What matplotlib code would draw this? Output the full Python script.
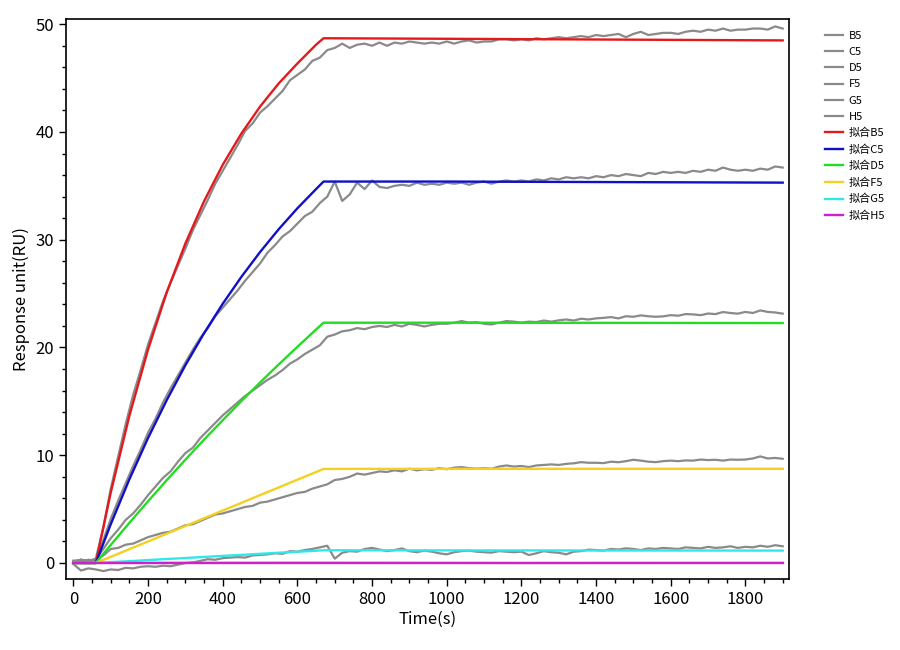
import matplotlib
matplotlib.use("Agg")
import matplotlib.pyplot as plt
from matplotlib.ticker import MultipleLocator

plt.rcParams['font.family'] = ['Noto Sans CJK SC', 'DejaVu Sans']

# sampling times of the measured curves (s), every 20 s from 0 to 1900
t_data = list(range(0, 1901, 20))

# measured responses (RU), one row per 200 s
B5 = [0.0, 0.3, 0.2, 0.4, 3.3, 6.9, 9.9, 12.9, 15.6, 17.9,
      20.3, 22.3, 24.3, 26.0, 27.6, 29.2, 30.9, 32.3, 33.7, 35.2,
      36.4, 37.6, 38.8, 40.1, 40.8, 41.8, 42.4, 43.1, 43.8, 44.8,
      45.3, 45.8, 46.6, 46.9, 47.6, 47.8, 48.2, 47.8, 48.1, 48.2,
      48.0, 48.3, 48.0, 48.3, 48.2, 48.4, 48.3, 48.2, 48.3, 48.2,
      48.4, 48.2, 48.4, 48.5, 48.3, 48.4, 48.4, 48.6, 48.6, 48.5,
      48.6, 48.5, 48.7, 48.6, 48.7, 48.8, 48.7, 48.8, 48.9, 48.8,
      49.0, 48.9, 49.0, 49.1, 48.8, 49.1, 49.3, 49.0, 49.1, 49.2,
      49.2, 49.1, 49.3, 49.4, 49.3, 49.5, 49.4, 49.6, 49.4, 49.5,
      49.5, 49.6, 49.6, 49.5, 49.8, 49.6]
C5 = [0.2, 0.1, 0.3, 0.2, 2.1, 4.1, 5.8, 7.4, 9.0, 10.5,
      12.1, 13.4, 14.9, 16.2, 17.4, 18.6, 19.8, 20.9, 21.8, 22.9,
      23.7, 24.5, 25.3, 26.2, 27.0, 27.8, 28.8, 29.5, 30.3, 30.8,
      31.5, 32.2, 32.6, 33.4, 34.0, 35.4, 33.6, 34.2, 35.3, 34.7,
      35.5, 34.9, 34.8, 35.0, 35.1, 35.0, 35.3, 35.1, 35.2, 35.1,
      35.3, 35.2, 35.3, 35.1, 35.3, 35.4, 35.2, 35.4, 35.5, 35.4,
      35.5, 35.4, 35.6, 35.5, 35.7, 35.6, 35.8, 35.7, 35.8, 35.7,
      35.9, 35.8, 36.0, 35.9, 36.1, 36.0, 35.9, 36.2, 36.1, 36.3,
      36.2, 36.3, 36.2, 36.4, 36.3, 36.5, 36.4, 36.7, 36.5, 36.4,
      36.5, 36.4, 36.6, 36.5, 36.8, 36.7]
D5 = [0.1, 0.3, 0.2, 0.3, 1.3, 2.3, 3.1, 4.0, 4.6, 5.4,
      6.3, 7.1, 7.9, 8.5, 9.4, 10.2, 10.7, 11.6, 12.3, 13.0,
      13.7, 14.3, 14.9, 15.5, 16.0, 16.5, 17.0, 17.4, 17.9, 18.5,
      18.9, 19.4, 19.8, 20.2, 21.0, 21.2, 21.5, 21.6, 21.8, 21.7,
      21.9, 22.0, 21.9, 22.1, 21.95, 22.2, 22.1, 21.95, 22.1, 22.2,
      22.2, 22.3, 22.45, 22.3, 22.35, 22.2, 22.14, 22.3, 22.45, 22.4,
      22.3, 22.4, 22.36, 22.5, 22.4, 22.52, 22.6, 22.5, 22.67, 22.6,
      22.7, 22.75, 22.82, 22.7, 22.9, 22.85, 22.98, 22.9, 22.85, 22.89,
      23.0, 22.95, 23.1, 23.07, 23.0, 23.15, 23.1, 23.29, 23.2, 23.14,
      23.3, 23.2, 23.44, 23.3, 23.25, 23.14]
F5 = [0.2, 0.3, 0.1, 0.3, 0.7, 1.3, 1.4, 1.7, 1.8, 2.1,
      2.4, 2.6, 2.8, 2.9, 3.2, 3.5, 3.6, 3.9, 4.2, 4.5,
      4.6, 4.8, 5.0, 5.2, 5.3, 5.6, 5.7, 5.9, 6.1, 6.3,
      6.5, 6.6, 6.9, 7.1, 7.3, 7.7, 7.8, 8.0, 8.3, 8.2,
      8.35, 8.5, 8.45, 8.6, 8.5, 8.75, 8.6, 8.7, 8.65, 8.8,
      8.7, 8.85, 8.9, 8.8, 8.75, 8.8, 8.74, 8.95, 9.05, 8.95,
      9.0, 8.9, 9.05, 9.1, 9.15, 9.1, 9.2, 9.25, 9.36, 9.3,
      9.3, 9.27, 9.4, 9.35, 9.45, 9.58, 9.5, 9.4, 9.36, 9.45,
      9.5, 9.45, 9.52, 9.5, 9.6, 9.55, 9.58, 9.5, 9.6, 9.58,
      9.6, 9.7, 9.89, 9.7, 9.75, 9.67]
G5 = [-0.1, -0.7, -0.5, -0.6, -0.75, -0.6, -0.65, -0.45, -0.5, -0.35,
      -0.3, -0.35, -0.25, -0.3, -0.15, 0.0, 0.05, 0.2, 0.35, 0.3,
      0.45, 0.5, 0.55, 0.5, 0.7, 0.75, 0.8, 0.9, 0.85, 1.1,
      1.05, 1.2, 1.3, 1.45, 1.6, 0.4, 0.95, 1.1, 1.05, 1.3,
      1.4, 1.25, 1.1, 1.2, 1.35, 1.1, 1.0, 1.15, 1.05, 0.9,
      0.8, 1.0, 1.1, 1.15, 1.05, 1.0, 0.96, 1.1, 1.05, 1.0,
      1.05, 0.74, 0.9, 1.1, 1.0, 0.95, 0.8, 1.05, 1.1, 1.24,
      1.2, 1.15, 1.3, 1.25, 1.36, 1.3, 1.2, 1.35, 1.3, 1.4,
      1.35, 1.3, 1.45, 1.4, 1.35, 1.5, 1.4, 1.45, 1.55, 1.4,
      1.5, 1.45, 1.6, 1.5, 1.65, 1.55]
# blank channel sits on zero, under its fit
t_H5 = [0, 600, 1200, 1900]
H5 = [0.0, 0.02, 0.0, 0.01]

# fitted curves
t_fit = [0, 60, 100, 150, 200, 250, 300, 350, 400, 450, 500, 550, 600, 650, 670, 1000, 1900]
fit_B5 = [0, 0, 6.54, 13.68, 19.83, 25.12, 29.66, 33.58, 36.96, 39.86, 42.36, 44.51, 46.36, 48.1, 48.7, 48.65, 48.5]
fit_C5 = [0, 0, 3.60, 7.78, 11.61, 15.12, 18.36, 21.33, 24.06, 26.56, 28.86, 30.98, 32.92, 34.70, 35.4, 35.4, 35.3]
fit_D5 = [0, 0, 1.68, 3.73, 5.73, 7.69, 9.59, 11.45, 13.25, 15.03, 16.75, 18.43, 20.06, 21.67, 22.3, 22.3, 22.27]
fit_F5 = [0, 0, 0.57, 1.29, 2.00, 2.72, 3.43, 4.15, 4.87, 5.58, 6.30, 7.01, 7.73, 8.44, 8.73, 8.74, 8.74]
fit_G5 = [0, 0, 0.08, 0.17, 0.27, 0.37, 0.46, 0.56, 0.66, 0.75, 0.85, 0.95, 1.04, 1.14, 1.18, 1.17, 1.15]
fit_H5 = [0] * len(t_fit)

data_names = ['B5', 'C5', 'D5', 'F5', 'G5', 'H5']
fit_colors = ['#e31a1c', '#1010c8', '#22dd22', '#f5d020', '#30e8e8', '#cc22cc']

fig = plt.figure(figsize=(9, 6.5), dpi=100)
ax = fig.add_axes([0.0733, 0.109, 0.8034, 0.862])

grey = '#8a8a8a'
for name, vals in zip(data_names[:5], [B5, C5, D5, F5, G5]):
    ax.plot(t_data, vals, color=grey, lw=1.6, label=name)
ax.plot(t_H5, H5, color=grey, lw=1.6, label='H5')

fits = [fit_B5, fit_C5, fit_D5, fit_F5, fit_G5, fit_H5]
for name, vals, c in zip(data_names, fits, fit_colors):
    ax.plot(t_fit, vals, color=c, lw=1.7, label='拟合' + name)

ax.set_xlim(-20, 1917)
ax.set_ylim(-1.5, 50.5)
ax.xaxis.set_major_locator(MultipleLocator(200))
ax.xaxis.set_minor_locator(MultipleLocator(50))
ax.yaxis.set_major_locator(MultipleLocator(10))
ax.yaxis.set_minor_locator(MultipleLocator(2))
ax.tick_params(which='major', direction='out', length=5, width=1, labelsize=12)
ax.tick_params(which='minor', direction='out', length=3, width=1)
for s in ax.spines.values():
    s.set_linewidth(1.2)

ax.set_xlabel('Time(s)', fontsize=12, labelpad=2)
ax.set_ylabel('Response unit(RU)', fontsize=12, labelpad=4)

ax.legend(loc='upper left', bbox_to_anchor=(0.912, 0.959), bbox_transform=fig.transFigure,
          frameon=False, fontsize=8, handlelength=1.6, handletextpad=0.5,
          labelspacing=0.55, borderaxespad=0)

fig.savefig('out.png', dpi=100)
